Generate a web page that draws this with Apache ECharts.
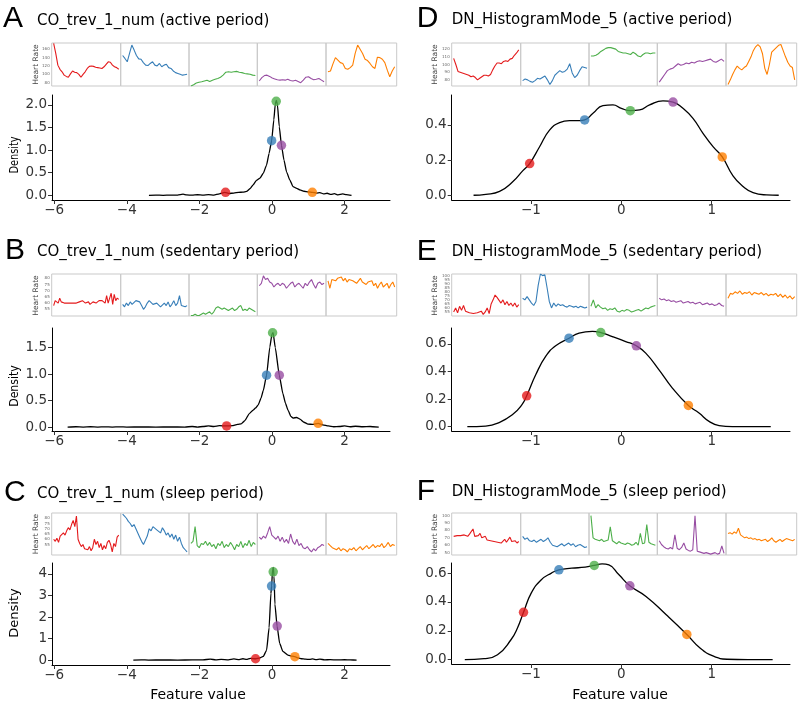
<!DOCTYPE html>
<html><head><meta charset="utf-8">
<script src="https://cdn.jsdelivr.net/npm/echarts@6/dist/echarts.min.js"></script>
<style>html,body{margin:0;padding:0;background:#fff}#c{width:799px;height:708px}</style>
</head><body><div id="c"></div>
<script>
// ---------------- DATA ----------------
const panelLetters = ['A','B','C','D','E','F'];
const panelTitles = ['CO_trev_1_num (active period)','CO_trev_1_num (sedentary period)','CO_trev_1_num (sleep period)',
  'DN_HistogramMode_5 (active period)','DN_HistogramMode_5 (sedentary period)','DN_HistogramMode_5 (sleep period)'];
const dotColors = ['#E41A1C','#377EB8','#4DAF4A','#984EA3','#FF7F00'];
const xTicksLeft = [-6,-4,-2,0,2];
const xTicksRight = [-1,0,1];
const yTicksA = [0,0.5,1,1.5,2];
const yTicksB = [0,0.5,1,1.5];
const yTicksC = [0,1,2,3,4];
const yTicksD = [0,0.2,0.4];
const yTicksE = [0,0.2,0.4,0.6];
const yTicksF = [0,0.2,0.4,0.6];

const densA = [[-3.39,0.0],[-3.2,0.004],[-3.0,0.0],[-2.8,0.006],[-2.6,0.004],[-2.45,0.025],[-2.35,0.008],[-2.2,0.004],[-2.05,0.012],[-1.9,0.004],[-1.75,0.015],[-1.6,0.006],[-1.45,0.03],[-1.3,0.065],[-1.18,0.04],[-1.05,0.05],[-0.92,0.065],[-0.8,0.07],[-0.7,0.085],[-0.6,0.15],[-0.52,0.23],[-0.43,0.33],[-0.33,0.38],[-0.24,0.49],[-0.15,0.67],[-0.08,0.93],[-0.01,1.21],[0.05,1.67],[0.09,2.02],[0.12,2.1],[0.15,2.0],[0.2,1.52],[0.26,1.11],[0.33,0.78],[0.4,0.52],[0.49,0.34],[0.58,0.19],[0.68,0.155],[0.77,0.12],[0.88,0.09],[1.0,0.075],[1.11,0.066],[1.22,0.05],[1.32,0.06],[1.42,0.03],[1.52,0.045],[1.62,0.02],[1.72,0.035],[1.82,0.01],[1.95,0.03],[2.05,0.015],[2.19,0.0]];
const densB = [[-5.63,0.0],[-5.4,0.005],[-5.2,0.0],[-5.0,0.005],[-4.8,0.0],[-4.6,0.004],[-4.4,0.0],[-4.2,0.004],[-4.0,0.0],[-3.6,0.002],[-3.2,0.0],[-2.8,0.002],[-2.4,0.0],[-2.2,0.01],[-2.05,0.0],[-1.9,0.01],[-1.75,0.02],[-1.6,0.01],[-1.45,0.025],[-1.25,0.02],[-1.1,0.025],[-0.95,0.05],[-0.85,0.06],[-0.75,0.12],[-0.63,0.25],[-0.52,0.32],[-0.45,0.36],[-0.38,0.42],[-0.3,0.55],[-0.24,0.69],[-0.15,0.98],[-0.06,1.51],[0.0,1.76],[0.03,1.78],[0.09,1.5],[0.2,0.98],[0.3,0.63],[0.37,0.45],[0.44,0.32],[0.52,0.2],[0.58,0.17],[0.68,0.18],[0.77,0.15],[0.88,0.09],[0.99,0.055],[1.12,0.05],[1.27,0.07],[1.4,0.04],[1.55,0.02],[1.7,0.005],[1.85,0.01],[2.0,0.02],[2.15,0.005],[2.3,0.015],[2.5,0.005],[2.7,0.01],[2.94,0.0]];
const densC = [[-3.82,0.0],[-3.6,0.01],[-3.4,0.0],[-3.0,0.005],[-2.6,0.0],[-2.2,0.005],[-1.9,0.01],[-1.7,0.04],[-1.55,0.01],[-1.4,0.03],[-1.2,0.01],[-1.05,0.05],[-0.9,0.02],[-0.8,0.06],[-0.7,0.03],[-0.6,0.08],[-0.45,0.06],[-0.35,0.09],[-0.24,0.17],[-0.15,0.45],[-0.08,1.5],[-0.03,3.1],[-0.01,3.45],[0.015,4.2],[0.035,4.3],[0.055,3.9],[0.08,2.6],[0.14,1.58],[0.21,0.78],[0.3,0.4],[0.44,0.23],[0.55,0.18],[0.63,0.155],[0.72,0.1],[0.81,0.06],[0.92,0.04],[1.04,0.03],[1.12,0.05],[1.22,0.02],[1.32,0.04],[1.45,0.01],[1.6,0.02],[1.8,0.005],[2.0,0.015],[2.15,0.005],[2.33,0.0]];
const densD = [[-1.636,0.0],[-1.5,0.005],[-1.348,0.022],[-1.2,0.078],[-1.09,0.14],[-1.015,0.18],[-0.905,0.276],[-0.795,0.37],[-0.684,0.413],[-0.573,0.424],[-0.462,0.424],[-0.406,0.428],[-0.314,0.466],[-0.204,0.51],[-0.093,0.514],[0.0,0.494],[0.099,0.481],[0.203,0.485],[0.313,0.514],[0.461,0.537],[0.572,0.53],[0.682,0.494],[0.793,0.437],[0.904,0.352],[1.015,0.276],[1.117,0.218],[1.236,0.11],[1.347,0.05],[1.458,0.015],[1.606,0.002],[1.742,0.0]];
const densE = [[-1.705,0.0],[-1.502,0.005],[-1.354,0.03],[-1.207,0.086],[-1.1,0.16],[-1.048,0.224],[-0.948,0.376],[-0.838,0.509],[-0.727,0.586],[-0.579,0.641],[-0.468,0.677],[-0.321,0.69],[-0.228,0.682],[-0.1,0.653],[0.048,0.617],[0.166,0.586],[0.27,0.533],[0.417,0.412],[0.565,0.28],[0.742,0.154],[0.86,0.099],[0.971,0.039],[1.082,0.008],[1.23,0.0],[1.654,0.0]];
const densF = [[-1.733,0.0],[-1.52,0.007],[-1.371,0.034],[-1.222,0.138],[-1.15,0.22],[-1.083,0.328],[-0.998,0.461],[-0.886,0.554],[-0.774,0.6],[-0.691,0.623],[-0.549,0.634],[-0.4,0.641],[-0.3,0.653],[-0.213,0.664],[-0.138,0.657],[-0.026,0.588],[0.094,0.512],[0.273,0.438],[0.497,0.311],[0.725,0.175],[0.871,0.081],[1.02,0.024],[1.17,0.003],[1.4,0.0],[1.675,0.0]];

const dotsA = [[-1.28,0.066],[-0.01,1.21],[0.116,2.08],[0.26,1.107],[1.11,0.066]];
const dotsB = [[-1.25,0.02],[-0.15,0.98],[0.016,1.78],[0.2,0.98],[1.27,0.07]];
const dotsC = [[-0.453,0.06],[-0.012,3.44],[0.033,4.1],[0.143,1.58],[0.63,0.155]];
const dotsD = [[-1.015,0.18],[-0.406,0.428],[0.099,0.481],[0.572,0.53],[1.117,0.218]];
const dotsE = [[-1.048,0.224],[-0.579,0.641],[-0.228,0.682],[0.166,0.586],[0.742,0.154]];
const dotsF = [[-1.083,0.328],[-0.691,0.623],[-0.3,0.653],[0.094,0.512],[0.725,0.175]];

// heart-rate sparklines (red, blue, green, purple, orange)
const sparkA_red = [174,150,122,112,106,98,95,93,101,108,105,104,100,93,100,106,114,119,120,119,117,116,115,114,118,124,130,129,122,118,116,112];
const sparkA_blue = [145,138,130,150,170,158,145,137,136,128,122,121,126,130,122,120,126,118,122,124,116,114,108,104,102,100,98,99,100];
const sparkA_green = [72,75,79,81,82,84,86,83,86,88,90,93,98,105,106,105,106,107,105,104,102,101,100,98,97];
const sparkA_purple = [84,92,97,98,95,91,89,87,86,87,86,88,85,84,86,83,80,86,93,94,90,87,88,90,86,82];
const sparkA_orange = [106,108,125,140,134,128,126,114,112,116,122,150,170,160,150,136,133,126,118,114,141,140,136,128,110,94,108,118];

const sparkB_red = [58,62,63,60,64,61,61,60,59,60,61,60,61,60,59,60,61,61,60,62,61,60,60,61,59,60,61,62,60,61,62,61,62,63,60,66,60,64,68,59,67,62,64,63];
const sparkB_blue = [59,57,60,58,61,59,60,62,63,61,58,55,57,60,62,61,59,58,60,59,57,56,60,58,61,57,59,62,58,60,66,58,59,57,58];
const sparkB_green = [50,50,51,50,50,51,52,51,52,53,51,53,56,57,56,55,56,55,54,55,56,54,55,57,58,54,55,54,56,55,54,53];
const sparkB_purple = [74,76,82,79,80,77,76,73,75,76,74,76,75,72,74,76,77,73,75,76,74,72,76,74,77,79,75,72,76,77,75,76];
const sparkB_orange = [78,72,79,80,78,80,79,81,78,80,77,79,80,78,79,76,78,80,77,78,75,77,76,78,74,76,72,75,77,73,74,76,72,75,77,73];

const sparkC_red = [60,58,61,57,63,62,66,64,68,71,69,74,78,72,82,60,56,53,55,51,52,50,53,49,52,60,55,58,52,56,50,54,51,57,59,55,48,56,53,62,64];
const sparkC_blue = [84,82,80,77,75,72,74,70,66,62,58,55,59,63,70,68,72,73,69,70,66,71,68,64,66,62,65,60,64,58,62,56,52,50,48];
const sparkC_green = [56,58,72,54,52,56,55,58,54,57,53,55,51,56,54,58,52,55,53,57,54,50,55,53,58,52,56,54,59,53,57,55];
const sparkC_purple = [62,60,63,61,66,72,64,62,60,63,58,62,57,60,56,65,58,55,60,54,56,52,51,53,50,48,51,49,52,53,55,54];
const sparkC_orange = [56,54,52,51,50,52,49,51,50,48,51,50,52,49,51,53,50,52,54,51,53,55,52,54,53,56,52,54,57,53,55,54];

const sparkD_red = [108,100,91,90,89,88,87,86,84,85,83,80,82,84,86,86,85,87,93,98,102,102,101,104,105,104,107,108,112,115,119];
const sparkD_blue = [79,81,80,78,77,79,82,81,83,85,80,74,79,86,89,92,90,91,94,101,89,83,86,92,97,96,95];
const sparkD_green = [111,111,112,114,117,119,121,122,122,121,120,117,116,115,115,114,113,116,114,111,110,113,115,115,114,115,115];
const sparkD_purple = [77,82,87,92,94,95,98,101,99,100,102,101,103,102,104,105,104,105,106,107,104,103,105,107,104];
const sparkD_orange = [74,80,87,93,98,95,93,96,98,104,110,118,123,126,123,114,95,87,100,116,119,122,125,126,118,110,103,98,96,80];

const sparkE_red = [55,60,54,62,57,63,56,58,54,55,53,55,54,53,56,52,55,60,53,65,70,76,73,75,66,70,64,68,63,66,62,66,61,64];
const sparkE_blue = [72,70,74,70,66,63,68,88,102,100,101,85,68,60,66,62,65,63,64,62,61,63,62,61,62,60,62,61,60,61];
const sparkE_green = [62,70,60,64,61,59,60,57,59,58,60,56,55,57,56,58,57,55,56,57,58,56,58,60,59,61,62,63];
const sparkE_purple = [72,70,71,69,70,68,69,67,68,69,66,67,68,66,67,65,66,67,64,65,66,64,65,63,64,66,63,62];
const sparkE_orange = [72,78,77,80,78,81,77,79,78,80,76,79,78,77,79,76,78,75,77,76,78,74,77,73,76,72,75,71,74];

const sparkF_red = [72,74,73,71,73,72,74,73,72,75,73,82,72,74,73,76,70,68,72,67,69,66,68,65,67,64,66,63,65,68,64,63,71,65,64,66,63,65];
const sparkF_blue = [72,68,70,66,65,67,64,66,68,65,67,70,64,60,59,58,60,62,59,61,63,60,62,58,60,61,59,57,58];
const sparkF_green = [100,70,68,67,66,68,65,66,67,85,66,64,62,65,63,62,61,63,62,60,61,64,60,76,62,63,88,64,62,61,60];
const sparkF_purple = [66,61,58,56,55,57,55,74,56,54,57,63,55,53,52,54,100,52,51,50,49,50,49,48,49,50,48,49,59,49];
const sparkF_orange = [76,77,75,78,76,83,74,72,70,71,69,70,68,69,67,68,66,67,68,65,67,70,66,64,66,68,65,67,69,68,67,66,68];

const sparkTicksA = [80,100,120,140,160];
const sparkTicksB = [55,60,65,70,75,80];
const sparkTicksC = [55,60,65,70,75,80];
const sparkTicksD = [80,90,100,110,120];
const sparkTicksE = [55,60,65,70,75,80,85,90,95,100];
const sparkTicksF = [50,60,70,80,90,100];

// ---------------- LAYOUT ----------------
const FONT = 'DejaVu Sans';
const panels = [
  {curve:densA, dots:dotsA, xt:xTicksLeft, yt:yTicksA, dec:1, box:[52,95,338,105], xr:[-6.06,3.25], yr:[-0.104,2.22], smooth:0.15, mono:'x',
   spark:[sparkA_red,sparkA_blue,sparkA_green,sparkA_purple,sparkA_orange], sTicks:sparkTicksA, sRange:[72,175], sTop:43, sH:43, edges:[51.7,120.7,189,257.3,326,396.7],
   letter:[3,19], title:[37,21], hr:[36.5,64.5], dens:[15,155,0.75]},
  {curve:densB, dots:dotsB, xt:xTicksLeft, yt:yTicksB, dec:1, box:[52,328,338,103], xr:[-6.06,3.25], yr:[-0.075,1.87], smooth:0.15, mono:'x',
   spark:[sparkB_red,sparkB_blue,sparkB_green,sparkB_purple,sparkB_orange], sTicks:sparkTicksB, sRange:[49.6,83.5], sTop:274, sH:42, edges:[51.7,120.7,189,257.3,326,396.7],
   letter:[5,251], title:[37,252.5], hr:[36.5,295.5], dens:[15,386,0.84]},
  {curve:densC, dots:dotsC, xt:xTicksLeft, yt:yTicksC, dec:0, box:[52,563,338,102], xr:[-6.06,3.25], yr:[-0.23,4.51], smooth:0.15, mono:'x',
   spark:[sparkC_red,sparkC_blue,sparkC_green,sparkC_purple,sparkC_orange], sTicks:sparkTicksC, sRange:[45,85], sTop:513, sH:42, edges:[51.7,120.7,189,257.3,326,396.7],
   letter:[4,492.5], title:[37,494], hr:[36.5,534], dens:[15,613,1], feat:[198,695]},
  {curve:densD, dots:dotsD, xt:xTicksRight, yt:yTicksD, dec:1, box:[451.7,95,338.3,105], xr:[-1.878,1.867], yr:[-0.027,0.57], smooth:0.5, mono:null,
   spark:[sparkD_red,sparkD_blue,sparkD_green,sparkD_purple,sparkD_orange], sTicks:sparkTicksD, sRange:[72,128], sTop:43, sH:43, edges:[451.7,520.7,589,657.3,726,796.7],
   letter:[416.7,19], title:[451.7,20], hr:[435,64.5]},
  {curve:densE, dots:dotsE, xt:xTicksRight, yt:yTicksE, dec:1, box:[451.7,328,338.3,103], xr:[-1.878,1.867], yr:[-0.031,0.715], smooth:0.5, mono:null,
   spark:[sparkE_red,sparkE_blue,sparkE_green,sparkE_purple,sparkE_orange], sTicks:sparkTicksE, sRange:[50,102], sTop:274, sH:42, edges:[451.7,520.7,589,657.3,726,796.7],
   letter:[416.7,251.7], title:[451.7,252], hr:[435,295.5]},
  {curve:densF, dots:dotsF, xt:xTicksRight, yt:yTicksF, dec:1, box:[451.7,563,338.3,101], xr:[-1.878,1.867], yr:[-0.03,0.67], smooth:0.5, mono:null,
   spark:[sparkF_red,sparkF_blue,sparkF_green,sparkF_purple,sparkF_orange], sTicks:sparkTicksF, sRange:[46.8,103.6], sTop:513, sH:42, edges:[451.7,520.7,589,657.3,726,796.7],
   letter:[416.7,491.7], title:[451.7,492.5], hr:[435,534], feat:[620,695]}
];

const grids=[], xAxes=[], yAxes=[], series=[], graphics=[];
const minus = v => String(v).replace('-', '\u2212');

panels.forEach((p, pi) => {
  // density plot
  let i = grids.length;
  grids.push({left:p.box[0], top:p.box[1], width:p.box[2], height:p.box[3]});
  xAxes.push({gridIndex:i, type:'value', min:p.xr[0], max:p.xr[1], splitLine:{show:false},
    axisLine:{show:true, onZero:false, lineStyle:{color:'#000', width:1}},
    axisTick:{show:true, length:4, lineStyle:{color:'#333'}, customValues:p.xt},
    axisLabel:{customValues:p.xt, fontSize:13.5, fontFamily:FONT, color:'#333', margin:3, formatter:v=>minus(v)}});
  yAxes.push({gridIndex:i, type:'value', min:p.yr[0], max:p.yr[1], splitLine:{show:false},
    axisLine:{show:true, onZero:false, lineStyle:{color:'#000', width:1}},
    axisTick:{show:true, length:4, lineStyle:{color:'#333'}, customValues:p.yt},
    axisLabel:{customValues:p.yt, fontSize:13.5, fontFamily:FONT, color:'#333', margin:5, formatter:v=>v.toFixed(p.dec)}});
  const lineSeries = {type:'line', xAxisIndex:i, yAxisIndex:i, data:p.curve, showSymbol:false, smooth:p.smooth,
    lineStyle:{color:'#000', width:1.3}, silent:true, z:2, animation:false};
  if (p.mono) lineSeries.smoothMonotone = p.mono;
  series.push(lineSeries);
  series.push({type:'scatter', xAxisIndex:i, yAxisIndex:i, symbolSize:9.5, z:3, animation:false,
    data:p.dots.map((d,j)=>({value:d, itemStyle:{color:dotColors[j]}}))});

  // sparklines
  p.spark.forEach((arr, k) => {
    const g = grids.length;
    const l = p.edges[k], w = p.edges[k+1]-p.edges[k];
    grids.push({left:l, top:p.sTop, width:w, height:p.sH, show:true, borderColor:'#c9c9c9', borderWidth:1, backgroundColor:'transparent'});
    xAxes.push({gridIndex:g, type:'value', show:false,
      min:v=>v.min-(v.max-v.min)*0.03, max:v=>v.max+(v.max-v.min)*0.03});
    yAxes.push({gridIndex:g, type:'value', min:p.sRange[0], max:p.sRange[1], splitLine:{show:false},
      axisLine:{show:false}, axisTick:{show:false},
      axisLabel:{show:k===0, customValues:p.sTicks, fontSize:4, fontFamily:FONT, color:'#666', margin:2}});
    series.push({type:'line', xAxisIndex:g, yAxisIndex:g, data:arr.map((v,n)=>[n,v]), showSymbol:false,
      lineStyle:{color:dotColors[k], width:1.1}, silent:true, animation:false});
  });

  // texts
  graphics.push({type:'text', x:p.letter[0], y:p.letter[1], style:{text:panelLetters[pi], fontSize:30, fontFamily:'Liberation Sans', fill:'#000', align:'left', verticalAlign:'middle'}});
  graphics.push({type:'text', x:p.title[0], y:p.title[1], style:{text:panelTitles[pi], fontSize:15, fontFamily:FONT, fill:'#000', align:'left', verticalAlign:'middle'}});
  graphics.push({type:'text', x:p.hr[0], y:p.hr[1], rotation:Math.PI/2, style:{text:'Heart Rate', fontSize:7.5, fontFamily:FONT, fill:'#444', align:'center', verticalAlign:'middle'}});
  if (p.dens) graphics.push({type:'text', x:p.dens[0], y:p.dens[1], rotation:Math.PI/2, scaleX:p.dens[2], style:{text:'Density', fontSize:13, fontFamily:FONT, fill:'#000', align:'center', verticalAlign:'middle'}});
  if (p.feat) graphics.push({type:'text', x:p.feat[0], y:p.feat[1], style:{text:'Feature value', fontSize:14, fontFamily:FONT, fill:'#000', align:'center', verticalAlign:'middle'}});
});

const chart = echarts.init(document.getElementById('c'));
chart.setOption({animation:false, grid:grids, xAxis:xAxes, yAxis:yAxes, series:series, graphic:graphics});
</script>
</body></html>
